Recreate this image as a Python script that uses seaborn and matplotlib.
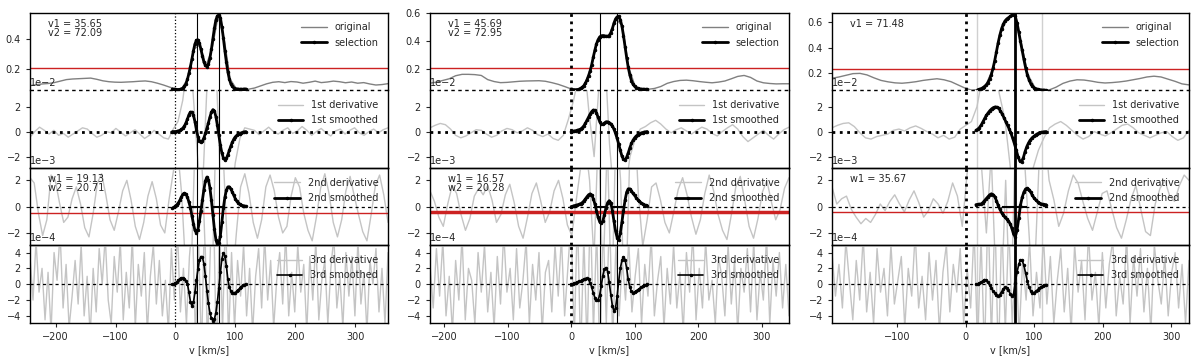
import numpy as np
import pandas as pd
import matplotlib
matplotlib.use("Agg")
import matplotlib.pyplot as plt
import seaborn as sns

# ---------------- panel 1 ----------------
p1_vrange = (-243, 355)
p1_sel_vrange = (-5, 117.5)
p1_v1, p1_v2 = 35.65, 72.09
p1_w1, p1_w2 = 19.13, 20.71
p1_red_top = 0.205
p1_red_d2 = -0.5
p1_ylim_top = (0.057, 0.573)
p1_xticks = [-200, -100, 0, 100, 200, 300]
p1_top_yticks = [0.2, 0.4]

p1_orig = [0.088, 0.094, 0.099, 0.102, 0.108, 0.118, 0.128, 0.132, 0.134, 0.136,
           0.138, 0.130, 0.120, 0.114, 0.111, 0.110, 0.112, 0.114, 0.117, 0.119,
           0.114, 0.104, 0.092, 0.078, 0.066, 0.068, 0.135, 0.330, 0.360, 0.220,
           0.330, 0.550, 0.400, 0.130, 0.068, 0.064, 0.064, 0.072, 0.086, 0.100,
           0.110, 0.114, 0.108, 0.115, 0.112, 0.104, 0.110, 0.118, 0.108, 0.112,
           0.118, 0.114, 0.107, 0.112, 0.104, 0.108, 0.099, 0.092, 0.095, 0.101]
p1_sel = [0.065, 0.064, 0.063, 0.062, 0.062, 0.063, 0.066, 0.072, 0.083, 0.100,
          0.130, 0.170, 0.215, 0.265, 0.320, 0.365, 0.390, 0.392, 0.370, 0.330,
          0.285, 0.245, 0.222, 0.215, 0.230, 0.270, 0.330, 0.400, 0.470, 0.525,
          0.552, 0.558, 0.540, 0.480, 0.405, 0.320, 0.245, 0.180, 0.130, 0.100,
          0.083, 0.073, 0.068, 0.066, 0.065, 0.064, 0.064, 0.064, 0.065, 0.066]
p1_d1 = [-0.45, 0.0, 0.35, 0.1, -0.2, 0.1, -0.3, -0.15, -0.45, -0.2, 0.05, 0.3,
         0.2, -0.15, -0.45, -0.3, 0.0, -0.1, 0.25, -0.05, -0.35, -0.1, 0.15, -0.2,
         -0.55, -0.3, 0.1, -0.2, -0.5, -0.6, 0.2,
         0.8, 2.5, 5.5, 4.0, -1.5, -6.0, 3.0, 8.0, 5.0, -5.0, -9.0, -6.0, -2.5, -0.5, 0.3,
         0.2, 0.1, -0.25, 0.05, 0.35, 0.0, -0.2, 0.1, 0.3, -0.15, 0.05, 0.4, 0.1, -0.3,
         0.0, 0.25, -0.1, -0.35, 0.05, 0.2, -0.2, 0.1, 0.3, -0.1, -0.3, 0.0, 0.2, -0.1,
         0.15, 0.3]
p1_d1s = [0.0, 0.0, 0.0, 0.02, 0.05, 0.1, 0.17, 0.28, 0.45, 0.7, 1.0, 1.35, 1.55,
          1.55, 1.3, 0.8, 0.15, -0.4, -0.75, -0.85, -0.75, -0.5, -0.15, 0.25, 0.7,
          1.15, 1.55, 1.75, 1.65, 1.2, 0.5, -0.3, -1.1, -1.7, -2.1, -2.25, -2.15,
          -1.85, -1.5, -1.15, -0.85, -0.6, -0.42, -0.3, -0.22, -0.16, -0.1, -0.06,
          -0.03, 0.0]
p1_d2 = [2.2, 1.8, -0.5, -2.2, -1.0, 2.4, 2.0, 0.3, -1.2, -0.8, 0.6, 1.5, 0.2, -1.6,
         -2.3, -0.5, 1.8, 2.5, 0.9, -1.0, -1.8, -0.4, 1.2, 2.0, 0.5, -1.5, -2.5, -1.2,
         0.8, 1.9, 0.6, -1.4, -2.0, 0.5, 2.6,
         4.5, 1.0, -5.0, -8.0, 3.0, 8.0, 2.0, -7.0, -9.0, 4.0, 9.0, 3.0, -4.0, -6.0,
         -2.0, 1.5, 2.5,
         1.0, -1.2, -2.4, -1.0, 1.5, 2.4, 1.2, -0.8, -2.0, -1.5, 0.8, 2.2, 1.5, -0.5,
         -1.8, -2.6, -0.8, 1.4, 2.5, 1.0, -1.2, -2.3, -1.0, 1.2, 2.3, 0.8, -0.6, -1.9,
         -2.6, -0.6, 1.6, 2.4, 0.9, -1.2]
p1_d2s = [-0.1, -0.05, 0.05, 0.15, 0.3, 0.5, 0.75, 0.95, 1.02, 0.95, 0.7, 0.35, -0.1,
          -0.7, -1.3, -1.8, -2.0, -1.75, -1.1, -0.3, 0.5, 1.3, 1.95, 2.25, 2.05, 1.45,
          0.5, -0.6, -1.7, -2.5, -2.9, -2.8, -2.2, -1.2, -0.1, 0.7, 1.25, 1.5, 1.5,
          1.35, 1.1, 0.85, 0.6, 0.4, 0.28, 0.18, 0.12, 0.08, 0.05, 0.03]
p1_d3 = [3.5, -2.0, 5.5, -1.0, 2.0, -4.5, 1.5, -6.0, 4.0, 0.5, 6.5, -3.0, 2.5, -5.5,
         -1.5, 3.0, -2.5, 5.0, -4.0, 1.0, -6.5, 2.0, -3.5, 4.5, 0.0, 6.0, -2.0, -5.0,
         3.5, -1.0, 5.5, -4.5, 1.5, -3.0, 6.0, -5.5, 2.5, -1.5, 4.0, -6.0, 1.0, 5.0,
         -2.5, 3.0, -4.0, 0.5, -6.0, 4.5, -2.0, 7.0, -3.5, 2.0, -5.0, 3.5, 8.0, -7.0,
         6.0, -9.0, 9.0, -8.0, 5.0, 10.0, -10.0, 8.0, -6.0, 9.0, -7.0, 4.0, -5.5, 3.0,
         -1.5, 5.0, -4.0, 2.0, -6.0, 1.0, 4.5, -3.0, 6.0, -2.0, 3.0, -5.5, 0.5, 4.0,
         -2.5, 6.5, -4.0, 1.5, -3.5, 5.0, -1.0, 2.5, -6.0, 3.5, -2.0, 5.5, -4.5, 0.5,
         3.0, -5.0, 2.0, 6.0, -3.0, 1.0, -5.5, 4.0, -1.5, 3.5, -4.0, 5.5, -2.5, 1.5,
         -6.0, 3.0, 0.0, 4.5, -3.5, 2.0, -5.0, 4.0]
p1_d3s = [0.0, 0.05, 0.15, 0.3, 0.5, 0.7, 0.78, 0.75, 0.65, 0.45, 0.0, -1.0, -2.2,
          -2.75, -2.3, -1.0, 0.5, 1.9, 3.0, 3.5, 3.4, 2.6, 1.0, -0.8, -2.4, -3.6,
          -4.3, -4.6, -4.4, -3.6, -2.2, -0.5, 1.5, 3.2, 3.95, 3.6, 2.3, 0.6, -0.4,
          -0.85, -1.05, -1.1, -1.05, -0.9, -0.7, -0.5, -0.3, -0.15, -0.05, 0.0]

# ---------------- panel 2 ----------------
p2_vrange = (-222, 343)
p2_sel_vrange = (0, 120)
p2_v1, p2_v2 = 45.69, 72.95
p2_w1, p2_w2 = 16.57, 20.28
p2_red_top = 0.205
p2_red_d2 = -0.43
p2_ylim_top = (0.045, 0.605)
p2_xticks = [-200, -100, 0, 100, 200, 300]
p2_top_yticks = [0.2, 0.4, 0.6]

p2_orig = [0.096, 0.104, 0.116, 0.128, 0.150, 0.160, 0.160, 0.158, 0.152, 0.122,
           0.108, 0.100, 0.102, 0.106, 0.110, 0.112, 0.113, 0.114, 0.110, 0.100,
           0.088, 0.072, 0.055, 0.051, 0.078, 0.185, 0.380, 0.440, 0.440, 0.560,
           0.510, 0.210, 0.073, 0.054, 0.052, 0.058, 0.072, 0.095, 0.108, 0.116,
           0.118, 0.114, 0.108, 0.103, 0.099, 0.104, 0.112, 0.128, 0.145, 0.152,
           0.138, 0.112, 0.099, 0.094, 0.091, 0.092, 0.092]
p2_sel = [0.052, 0.050, 0.049, 0.049, 0.050, 0.053, 0.058, 0.066, 0.078, 0.095,
          0.120, 0.150, 0.185, 0.230, 0.285, 0.335, 0.380, 0.410, 0.430, 0.438,
          0.440, 0.438, 0.435, 0.435, 0.440, 0.460, 0.490, 0.530, 0.560, 0.575,
          0.578, 0.555, 0.510, 0.440, 0.360, 0.280, 0.210, 0.155, 0.115, 0.088,
          0.073, 0.064, 0.059, 0.056, 0.054, 0.053, 0.052, 0.052, 0.052]
p2_d1 = [0.3, 0.5, 0.65, 0.55, 0.2, -0.3, -0.5, -0.35, -0.1, 0.15, 0.1, -0.2, -0.45,
         -0.3, 0.05, 0.25, 0.15, -0.1, 0.05, 0.3, 0.1, -0.25, -0.4, -0.2, -0.55, -0.7,
         -0.3,
         1.0, 2.5, 4.5, 6.0, 1.5, -2.0, 4.0, 7.0, -1.0, -6.0, -8.0, -5.0, -2.0, -0.6, 0.2,
         0.4, 0.7, 0.9, 0.6, 0.2, -0.1, 0.15, 0.3, 0.05, -0.2, 0.1, 0.35, 0.2, -0.15,
         -0.35, 0.0, 0.3, 0.55, 0.2, -0.4, -0.8, -0.5, -0.2, 0.1, -0.3, -0.6, -0.2,
         0.15, 0.35]
p2_d1s = [0.0, 0.02, 0.04, 0.07, 0.1, 0.15, 0.2, 0.3, 0.45, 0.65, 0.9, 1.15, 1.4, 1.6,
          1.72, 1.7, 1.5, 1.15, 0.8, 0.6, 0.58, 0.68, 0.78, 0.78, 0.72, 0.62, 0.45,
          0.2, -0.15, -0.55, -1.0, -1.5, -1.95, -2.22, -2.25, -2.05, -1.7, -1.3,
          -0.95, -0.7, -0.5, -0.36, -0.26, -0.18, -0.12, -0.08, -0.04, -0.02, 0.0]
p2_d2 = [1.2, 0.4, -0.8, -1.5, 0.2, 1.6, 1.0, -0.6, -1.8, -0.9, 0.8, 1.4, 0.9, 1.6,
         0.5, -1.2, -0.6, 0.9, 1.7, 0.3, -1.5, -2.4, -0.8, 1.0, 1.8, 0.4, -1.2, -0.4,
         1.2, 2.0, 0.6, -1.4, -2.2, 0.5, 3.0,
         5.0, 2.0, -4.0, 6.0, -6.0, 5.0, -8.0, 7.0, 2.0, -9.0, 3.0, 8.0, 1.0, -3.0,
         -1.0, 1.5,
         1.8, 0.5, -1.2, -2.0, -0.4, 1.3, 2.2, 0.9, -0.8, -2.1, -1.0, 1.0, 2.4, 1.2,
         -0.6, -1.8, -2.5, -0.6, 1.5, 2.3, 0.5, -1.5, -2.4, -0.9, 1.1, 2.0, 0.4, -1.0,
         -0.2, 1.4, 2.2]
p2_d2s = [0.0, 0.03, 0.07, 0.1, 0.13, 0.17, 0.22, 0.3, 0.42, 0.58, 0.75, 0.9, 0.97,
          0.88, 0.6, 0.2, -0.3, -0.8, -1.15, -1.25, -1.1, -0.6, -0.1, 0.3, 0.45, 0.3,
          -0.3, -1.1, -1.85, -2.35, -2.5, -2.0, -1.2, -0.3, 0.5, 1.1, 1.35, 1.35, 1.2,
          1.0, 0.85, 0.68, 0.53, 0.4, 0.3, 0.22, 0.15, 0.1, 0.08]
p2_d3 = [2.5, -3.0, 4.5, -1.5, 5.5, -4.0, 1.0, -6.0, 3.0, -2.0, 6.0, -4.5, 2.0, 0.5,
         -5.0, 4.0, -1.0, 5.0, -3.5, 1.5, -5.5, 3.5, -2.5, 6.5, -1.0, 2.0, -4.5, 4.5,
         -3.0, 0.5, 5.5, -5.0, 2.5, -2.0, 4.0, -6.0, 1.5, 3.0, -3.5, 5.0, -1.5, 6.0,
         -4.0, 2.0, 8.0, -7.0, 9.0, -9.0, 6.0, -8.0, 10.0, -6.0, 7.0, -10.0, 8.0, -5.0,
         9.0, -7.0, 5.0, -4.0, 3.0, -2.0, 5.5, -3.5, 1.0, 4.5, -5.0, 2.5, -1.5, 6.0,
         -4.0, 0.5, 3.5, -5.5, 2.0, -2.5, 5.0, -3.0, 1.5, -6.0, 4.0, -1.0, 6.5, -4.5,
         2.0, -3.0, 5.5, -2.0, 0.5, -5.0, 3.5, 1.0, -4.0, 5.0, -2.5, 3.0, -6.0, 2.0,
         -1.0, 4.5, -3.5, 5.5, -4.5, 1.5, -2.0, 6.0, -5.0, 3.0, -1.5, 4.0, -3.0, 2.5,
         -4.0]
p2_d3s = [0.0, 0.05, 0.12, 0.2, 0.28, 0.35, 0.42, 0.52, 0.62, 0.72, 0.75, 0.6, 0.2,
          -0.4, -1.1, -1.7, -2.05, -2.0, -1.4, -0.2, 1.1, 1.9, 2.1, 1.6, 0.3, -1.3,
          -2.7, -3.4, -3.0, -1.5, 0.4, 2.0, 3.0, 3.45, 3.1, 2.0, 0.6, -0.4, -0.9,
          -1.05, -1.0, -0.85, -0.7, -0.55, -0.4, -0.28, -0.16, -0.07, 0.0]

# ---------------- panel 3 ----------------
p3_vrange = (-195, 326)
p3_sel_vrange = (17.5, 117.5)
p3_deriv_vrange = (15, 117.5)
p3_v1 = 71.48
p3_w1 = 35.67
p3_bounds = [16, 112]
p3_red_top = 0.236
p3_red_d2 = -0.38
p3_ylim_top = (0.068, 0.674)
p3_xticks = [-100, 0, 100, 200, 300]
p3_top_yticks = [0.2, 0.4, 0.6]

p3_orig = [0.162, 0.172, 0.185, 0.198, 0.200, 0.188, 0.165, 0.145, 0.134, 0.126,
           0.123, 0.128, 0.135, 0.145, 0.152, 0.158, 0.150, 0.135, 0.110, 0.085,
           0.068, 0.075, 0.110, 0.240, 0.500, 0.625, 0.660, 0.450, 0.190, 0.088,
           0.071, 0.070, 0.092, 0.122, 0.140, 0.150, 0.148, 0.140, 0.130, 0.125,
           0.128, 0.133, 0.140, 0.150, 0.160, 0.172, 0.178, 0.172, 0.155, 0.138,
           0.118, 0.110]
p3_sel = [0.072, 0.075, 0.080, 0.087, 0.097, 0.110, 0.128, 0.155, 0.190, 0.240,
          0.300, 0.370, 0.440, 0.500, 0.550, 0.585, 0.610, 0.625, 0.635, 0.645,
          0.655, 0.660, 0.645, 0.595, 0.525, 0.450, 0.380, 0.310, 0.245, 0.190,
          0.150, 0.120, 0.100, 0.088, 0.080, 0.076, 0.073, 0.071, 0.070, 0.069, 0.068]
p3_d1 = [0.3, 0.5, 0.65, 0.7, 0.4, -0.1, -0.5, -0.6, -0.4, -0.3, -0.2, 0.1, 0.2, 0.05,
         0.3, 0.45, 0.25, 0.0, -0.2, -0.5, -0.3, -0.6, -0.45, 0.2, 0.5, 0.8,
         2.0, 4.5, 6.0, 5.5, 3.0, 1.0, -3.0, -7.0, -6.5, -5.0, -3.0, -1.5, -0.5, 0.3,
         0.6, 0.8, 0.5, 0.1, -0.3, -0.6, -0.4, 0.0, -0.2, -0.35, -0.1, 0.2, 0.5, 0.6,
         0.3, -0.1, -0.3, -0.5, -0.3, -0.1, 0.0, -0.4, -0.7, -0.5, 0.1]
p3_d1s = [0.1, 0.18, 0.32, 0.52, 0.78, 1.05, 1.3, 1.5, 1.68, 1.82, 1.92, 1.97, 1.95,
          1.85, 1.65, 1.4, 1.1, 0.8, 0.5, 0.2, -0.15, -0.55, -1.0, -1.5, -2.0, -2.35,
          -2.4, -2.1, -1.6, -1.2, -0.9, -0.68, -0.5, -0.38, -0.27, -0.18, -0.12,
          -0.07, -0.04, -0.02, 0.0]
p3_d2 = [1.5, 0.2, 0.6, 0.8, -0.2, -0.8, -1.3, -0.9, -1.2, -0.6, 0.2, -0.3, 0.4, 0.9,
         0.2, -0.4, 0.5, 1.2, 0.3, -0.8, -0.3, 0.6, 0.2, -0.5, 0.4, 1.8, 0.8, -1.5, 2.5,
         5.0, 8.0, 3.0, -2.0, 4.0, -6.0, -8.0, 2.0, -9.0, 5.0, 8.0, 3.0, -3.0, -5.0,
         4.0, 6.0,
         2.0, 0.5, -1.5, -0.5, 1.2, 2.4, 1.8, 0.4, -0.9, -1.8, -0.4, 1.0, 1.2, -0.2,
         -1.6, -2.4, -1.0, 0.6, 1.6, -0.2, -1.9, -2.2, 0.2, 1.4, 2.0, 0.8, 0.4, 1.6,
         2.4, 2.0]
p3_d2s = [0.15, 0.17, 0.18, 0.2, 0.3, 0.45, 0.6, 0.75, 0.9, 0.97, 0.92, 0.77, 0.45,
          0.1, -0.2, -0.45, -0.65, -0.8, -0.95, -1.1, -1.3, -1.65, -2.1, -2.3, -1.8,
          -0.9, 0.1, 0.7, 1.1, 1.35, 1.4, 1.3, 1.1, 0.85, 0.65, 0.5, 0.38, 0.28, 0.22,
          0.18, 0.16, 0.15]
p3_d3 = [4.0, -1.5, 2.5, -3.0, 5.5, 0.5, -4.5, 3.0, -2.0, 6.0, -3.5, 1.5, -5.0, 4.5,
         -1.0, 2.0, -4.0, 5.0, -2.5, 0.5, 3.5, -5.5, 2.0, -1.5, 6.5, -3.0, 1.0, -4.5,
         4.0, -2.0, 3.0, -6.0, 1.5, 5.0, -3.5, 2.5, -1.0, 4.5, -5.0, 2.0, -3.0, 7.0,
         -8.0, 6.0, -9.0, 10.0, -7.0, 9.0, -10.0, 8.0, -6.0, 7.5, -5.0, 4.0, -6.5,
         3.0, -2.0, 5.5, -4.0, 1.5, -3.0, 6.0, -2.5, 3.5, -5.0, 0.5, 4.5, -3.5, 2.0,
         -6.0, 5.0, -1.0, 3.0, -4.5, 6.5, -2.0, 1.5, -5.5, 4.0, -3.0, 2.5, 5.5, -4.0,
         1.0, -2.5, 6.0, -5.0, 3.5, -1.5, 4.5, -3.5, 2.0, -6.0, 5.0, 0.5, -2.5, 3.5,
         -4.0, 1.5, 4.0, -3.0, 2.5, -5.0, 3.0]
p3_d3s = [0.0, 0.05, 0.12, 0.22, 0.4, 0.58, 0.5, 0.25, -0.1, -0.5, -0.85, -1.1,
          -1.35, -1.45, -1.3, -0.95, -0.6, -0.4, -0.45, -0.7, -1.2, -1.55, -1.2, 0.2,
          1.5, 2.5, 3.05, 3.0, 2.4, 1.4, 0.4, -0.4, -0.85, -1.05, -1.05, -0.9, -0.7,
          -0.5, -0.35, -0.2, -0.1, -0.05]

# common row limits (scaled units)
d1_ylim = (-2.9, 3.3)
d2_ylim = (-2.95, 2.95)
d3_ylim = (-4.9, 4.9)

panels = [
    dict(left=30, right=388, vrange=p1_vrange, sel_vrange=p1_sel_vrange,
         deriv_vrange=p1_sel_vrange, orig=p1_orig, sel=p1_sel, d1=p1_d1, d1s=p1_d1s,
         d2=p1_d2, d2s=p1_d2s, d3=p1_d3, d3s=p1_d3s, vs=[p1_v1, p1_v2],
         ws=[p1_w1, p1_w2], red_top=p1_red_top, red_d2=p1_red_d2, red_lw=1.0,
         ylim_top=p1_ylim_top, xticks=p1_xticks, top_yticks=p1_top_yticks,
         v_lw=0.8, zero_lw=0.9, bounds=[],
         vtext="v1 = %.2f\nv2 = %.2f" % (p1_v1, p1_v2),
         wtext="w1 = %.2f\nw2 = %.2f" % (p1_w1, p1_w2)),
    dict(left=430, right=789, vrange=p2_vrange, sel_vrange=p2_sel_vrange,
         deriv_vrange=p2_sel_vrange, orig=p2_orig, sel=p2_sel, d1=p2_d1, d1s=p2_d1s,
         d2=p2_d2, d2s=p2_d2s, d3=p2_d3, d3s=p2_d3s, vs=[p2_v1, p2_v2],
         ws=[p2_w1, p2_w2], red_top=p2_red_top, red_d2=p2_red_d2, red_lw=2.5,
         ylim_top=p2_ylim_top, xticks=p2_xticks, top_yticks=p2_top_yticks,
         v_lw=0.8, zero_lw=2.0, bounds=[],
         vtext="v1 = %.2f\nv2 = %.2f" % (p2_v1, p2_v2),
         wtext="w1 = %.2f\nw2 = %.2f" % (p2_w1, p2_w2)),
    dict(left=832, right=1189, vrange=p3_vrange, sel_vrange=p3_sel_vrange,
         deriv_vrange=p3_deriv_vrange, orig=p3_orig, sel=p3_sel, d1=p3_d1, d1s=p3_d1s,
         d2=p3_d2, d2s=p3_d2s, d3=p3_d3, d3s=p3_d3s, vs=[p3_v1],
         ws=[p3_w1], red_top=p3_red_top, red_d2=p3_red_d2, red_lw=1.0,
         ylim_top=p3_ylim_top, xticks=p3_xticks, top_yticks=p3_top_yticks,
         v_lw=2.0, zero_lw=2.0, bounds=p3_bounds,
         vtext="v1 = %.2f" % p3_v1, wtext="w1 = %.2f" % p3_w1),
]

sns.set_style("ticks")
plt.rcParams['font.family'] = ['DejaVu Sans']
plt.rcParams['font.size'] = 7
plt.rcParams['axes.linewidth'] = 1.0

W, H = 1200, 358
fig = plt.figure(figsize=(12, 3.58), dpi=100)
row_top, row_bot = 12.7, 323.0
row_h = (row_bot - row_top) / 4

GRAY_ORIG = '#808080'
GRAY_DER = '#c4c4c4'
RED = '#cc2222'


def line(ax, xs, ys, **kw):
    sns.lineplot(x=xs, y=ys, ax=ax, sort=False, estimator=None, **kw)


for p in panels:
    axes = []
    for r in range(4):
        y0 = (H - (row_top + (r + 1) * row_h)) / H
        ax = fig.add_axes([p['left'] / W, y0, (p['right'] - p['left']) / W, row_h / H],
                          sharex=axes[0] if axes else None)
        ax.patch.set_alpha(0)
        axes.append(ax)
    a1, a2, a3, a4 = axes

    vb = np.linspace(*p['vrange'], len(p['orig']))
    vs_sel = np.linspace(*p['sel_vrange'], len(p['sel']))

    # row 1: spectrum
    line(a1, vb, np.array(p['orig']), color=GRAY_ORIG, lw=1.0, label='original')
    line(a1, vs_sel, np.array(p['sel']), color='black', lw=2.0, marker='.',
         markersize=3.5, markeredgecolor='black', label='selection', zorder=5)
    a1.axhline(p['red_top'], color=RED, lw=1.0)
    a1.set_ylim(*p['ylim_top'])
    a1.set_yticks(p['top_yticks'])

    # rows 2-4: derivatives
    rows = [(a2, 'd1', 'd1s', '1st', 1e-2, d1_ylim, [-2, 0, 2], 2.0),
            (a3, 'd2', 'd2s', '2nd', 1e-3, d2_ylim, [-2, 0, 2], 2.0),
            (a4, 'd3', 'd3s', '3rd', 1e-4, d3_ylim, [-4, -2, 0, 2, 4], 1.2)]
    for ax, kb, ks, name, sc, ylim, yt, slw in rows:
        vbg = np.linspace(*p['vrange'], len(p[kb]))
        vsm = np.linspace(*p['deriv_vrange'], len(p[ks]))
        line(ax, vbg, np.array(p[kb]) * sc, color=GRAY_DER, lw=1.0,
             label='%s derivative' % name)
        if name == '1st':
            ax.axhline(0, color='black', lw=2.0, ls=':')
            # dotted boundary towards the spectrum row
            ax.axhline(ylim[1] * sc, color='black', lw=1.0, ls=(0, (2.5, 2.5)),
                       clip_on=False, zorder=6)
        else:
            ax.axhline(0, color='black', lw=0.9, ls=(0, (2.5, 2.5)))
        if name == '2nd':
            ax.axhline(p['red_d2'] * sc, color=RED, lw=p['red_lw'])
            for v, w in zip(p['vs'], p['ws']):
                ax.hlines(0, v - w / 2, v + w / 2, color='black', lw=1.5, zorder=4)
        line(ax, vsm, np.array(p[ks]) * sc, color='black', lw=slw, marker='.',
             markersize=3.5, markeredgecolor='black', label='%s smoothed' % name,
             zorder=5)
        ax.set_ylim(ylim[0] * sc, ylim[1] * sc)
        ax.set_yticks(np.array(yt) * sc)
        ax.ticklabel_format(axis='y', style='sci', scilimits=(0, 0))
        ax.yaxis.get_offset_text().set_fontsize(7)

    for ax in axes:
        ax.axvline(0, color='black', lw=p['zero_lw'], ls=':', zorder=3)
        for v in p['vs']:
            ax.axvline(v, color='black', lw=p['v_lw'], zorder=3)
        for b in p['bounds']:
            ax.axvline(b, color='#d0d0d0', lw=1.0, zorder=1)
        ax.legend(loc='upper right', frameon=False, fontsize=7, handlelength=2.6,
                  labelspacing=0.55, borderaxespad=0.6)
        ax.tick_params(labelsize=7, length=3, width=0.8)
        ax.set_ylabel('')
        for s in ax.spines.values():
            s.set_visible(True)
            s.set_color('black')
            s.set_linewidth(1.0)
    a1.spines['bottom'].set_visible(False)
    a2.spines['top'].set_visible(False)

    for ax in axes[:3]:
        ax.tick_params(axis='x', bottom=False, labelbottom=False)
    a4.set_xlim(*p['vrange'])
    a4.set_xticks(p['xticks'])
    a4.set_xlabel('v [km/s]', fontsize=7, labelpad=2)

    a1.text(0.05, 0.92, p['vtext'], transform=a1.transAxes, va='top', ha='left',
            fontsize=7, linespacing=0.85)
    a3.text(0.05, 0.92, p['wtext'], transform=a3.transAxes, va='top', ha='left',
            fontsize=7, linespacing=0.85)

fig.savefig('out.png', dpi=100)
